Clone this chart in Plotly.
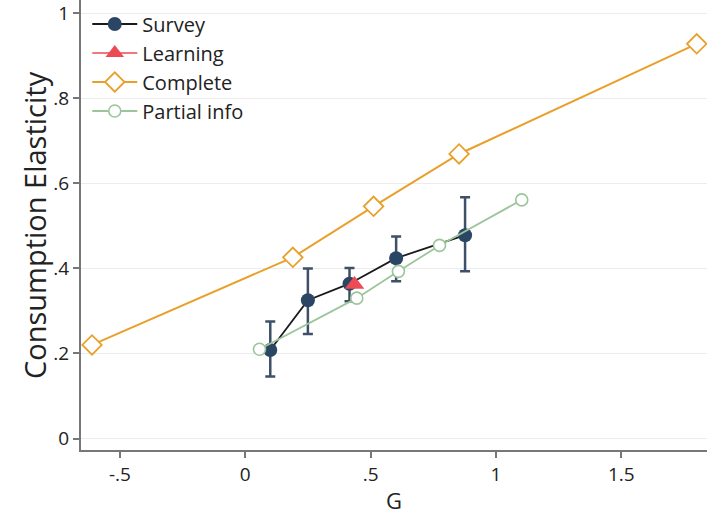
import plotly.graph_objects as go

# Data
survey_x = [0.10, 0.25, 0.416, 0.602, 0.877]
survey_y = [0.208, 0.325, 0.364, 0.424, 0.478]
survey_hi = [0.275, 0.400, 0.401, 0.475, 0.567]
survey_lo = [0.146, 0.246, 0.323, 0.370, 0.393]

learning_x = [0.436]
learning_y = [0.362]

complete_x = [-0.611, 0.19, 0.512, 0.853, 1.801]
complete_y = [0.220, 0.426, 0.546, 0.669, 0.928]

partial_x = [0.057, 0.445, 0.611, 0.775, 1.103]
partial_y = [0.210, 0.330, 0.393, 0.454, 0.561]

x_ticks = [-0.5, 0, 0.5, 1, 1.5]
x_ticklabels = ["-.5", "0", ".5", "1", "1.5"]
y_ticks = [0, 0.2, 0.4, 0.6, 0.8, 1]
y_ticklabels = ["0", ".2", ".4", ".6", ".8", "1"]

FONT = "Open Sans"
NAVY = "#2b4564"
RED = "#ec4a55"
ORANGE = "#e9a02a"
GREEN = "#9cc59c"

fig = go.Figure()

fig.add_trace(go.Scatter(
    x=survey_x, y=survey_y, name="Survey", mode="lines+markers",
    line=dict(color="#1a1a1a", width=1.8),
    marker=dict(color=NAVY, size=14, symbol="circle"),
    error_y=dict(type="data", symmetric=False,
                 array=[h - v for h, v in zip(survey_hi, survey_y)],
                 arrayminus=[v - l for l, v in zip(survey_lo, survey_y)],
                 color="#3e5068", thickness=2.5, width=5),
))
fig.add_trace(go.Scatter(
    x=learning_x, y=learning_y, name="Learning", mode="lines+markers",
    line=dict(color=RED, width=1.5),
    marker=dict(color=RED, size=17, symbol="triangle-up"),
))
fig.add_trace(go.Scatter(
    x=complete_x, y=complete_y, name="Complete", mode="lines+markers",
    line=dict(color=ORANGE, width=2),
    marker=dict(color="white", size=15, symbol="diamond",
                line=dict(color=ORANGE, width=1.8)),
))
fig.add_trace(go.Scatter(
    x=partial_x, y=partial_y, name="Partial info", mode="lines+markers",
    line=dict(color=GREEN, width=1.8),
    marker=dict(color="white", size=12, symbol="circle",
                line=dict(color=GREEN, width=1.6)),
))

fig.update_layout(
    width=707, height=515,
    margin=dict(l=81, r=0, t=0, b=65),
    paper_bgcolor="white", plot_bgcolor="white",
    font=dict(family=FONT, size=19, color="#222222"),
    showlegend=True,
    legend=dict(x=0.01, y=0.99, xanchor="left", yanchor="top",
                bgcolor="rgba(0,0,0,0)", font=dict(size=20, family=FONT),
                tracegroupgap=0, itemwidth=45),
    xaxis=dict(
        range=[-0.655, 1.842], tickvals=x_ticks, ticktext=x_ticklabels,
        showgrid=False, zeroline=False, showline=True, linecolor="#777777",
        linewidth=2, ticks="outside", ticklen=6, tickcolor="#777777", tickwidth=1.5,
        title=dict(text="G", font=dict(size=22, family=FONT)),
        tickfont=dict(size=19, family=FONT), automargin=False,
        ticklabeloverflow="allow",
    ),
    yaxis=dict(
        range=[-0.027, 1.031], tickvals=y_ticks, ticktext=y_ticklabels,
        showgrid=True, gridcolor="#ececec", gridwidth=1, zeroline=False,
        showline=True, linecolor="#777777", linewidth=2,
        ticks="outside", ticklen=6, tickcolor="#777777", tickwidth=1.5,
        tickfont=dict(size=19, family=FONT), automargin=False,
        ticklabeloverflow="allow",
    ),
    annotations=[dict(
        text="Consumption Elasticity", textangle=-90,
        xref="paper", yref="paper", x=-0.075, y=0.5,
        xanchor="center", yanchor="middle", showarrow=False,
        font=dict(size=29, family=FONT, color="#222222"),
    )],
)

fig.write_html("out.html", post_script="document.body.style.margin='0px';",
               config={"displayModeBar": False})
